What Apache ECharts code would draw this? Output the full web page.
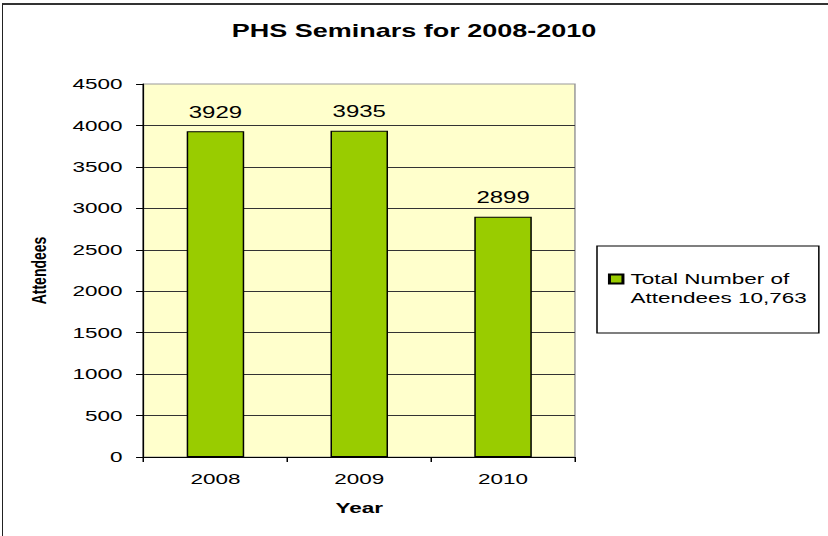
<!DOCTYPE html>
<html>
<head>
<meta charset="utf-8">
<script src="https://cdn.jsdelivr.net/npm/echarts@6/dist/echarts.min.js"></script>
<style>
  html, body { margin: 0; padding: 0; background: #fff; overflow: hidden; }
  #frame { position: absolute; left: 2px; top: 3px; width: 826px; height: 533px;
           border-top: 2px solid #333; border-left: 1px solid #222; box-sizing: border-box; }
  #chart { position: absolute; left: 0; top: 0; width: 552px; height: 536px;
           transform: scaleX(1.5); transform-origin: 0 0; }
</style>
</head>
<body>
<div id="frame"></div>
<div id="chart"></div>
<script>
// ---- data ----
const titleText = 'PHS Seminars for 2008-2010';
const categories = ['2008', '2009', '2010'];
const attendees = [3929, 3935, 2899];
const seriesName = 'Total Number of\nAttendees 10,763';
const xAxisName = 'Year';
const yAxisName = 'Attendees';
const yMin = 0, yMax = 4500, yStep = 500;

const FONT = '"Liberation Sans", Arial, sans-serif';
const chart = echarts.init(document.getElementById('chart'), null, { renderer: 'svg' });

chart.setOption({
  animation: false,
  title: {
    text: titleText,
    left: 'center',
    top: 17,
    textStyle: { fontFamily: FONT, fontSize: 18, fontWeight: 'bold', color: '#000' }
  },
  legend: {
    left: 398,
    top: 246,
    orient: 'vertical',
    padding: [23, 8, 26, 7.3],
    backgroundColor: '#fff',
    borderColor: '#000',
    borderWidth: 1,
    borderRadius: 0,
    itemWidth: 9,
    itemHeight: 28,
    // square at the top of the icon box so it lines up with the first text line
    icon: 'path://M0,0H10V10H0Z M0,30L0,30',
    textStyle: { fontFamily: FONT, fontSize: 15, color: '#000', lineHeight: 19 },
    data: [seriesName]
  },
  grid: {
    left: 95.7,
    top: 84,
    width: 287.6,
    bottom: 79,
    show: true,
    backgroundColor: '#FFFFCC',
    borderColor: '#999',
    borderWidth: 1
  },
  xAxis: {
    type: 'category',
    data: categories,
    boundaryGap: true,
    name: xAxisName,
    nameLocation: 'middle',
    nameGap: 43,
    nameTextStyle: { fontFamily: FONT, fontSize: 15, fontWeight: 'bold', color: '#000' },
    axisLine: { show: true, lineStyle: { color: '#000', width: 1 } },
    axisTick: { show: true, length: 5, lineStyle: { color: '#000' } },
    axisLabel: { fontFamily: FONT, fontSize: 15, color: '#000', margin: 14 },
    splitLine: { show: false }
  },
  yAxis: {
    type: 'value',
    min: yMin,
    max: yMax,
    interval: yStep,
    name: yAxisName,
    nameLocation: 'middle',
    nameGap: 63,
    nameTextStyle: { fontFamily: FONT, fontSize: 14, fontWeight: 'bold', color: '#000' },
    axisLine: { show: true, lineStyle: { color: '#000', width: 1 } },
    axisTick: { show: true, length: 5, lineStyle: { color: '#000' } },
    axisLabel: { fontFamily: FONT, fontSize: 15, color: '#000', margin: 14,
                 formatter: v => String(v) },
    splitLine: { show: true, showMaxLine: false, showMinLine: false,
                 lineStyle: { color: '#333', width: 1 } }
  },
  series: [{
    type: 'bar',
    name: seriesName,
    data: attendees,
    barWidth: '40%',
    itemStyle: { color: '#99CC00', borderColor: '#000', borderWidth: 1 },
    label: { show: true, position: 'top', distance: 11,
             fontFamily: FONT, fontSize: 16, color: '#000' }
  }]
});
</script>
</body>
</html>
